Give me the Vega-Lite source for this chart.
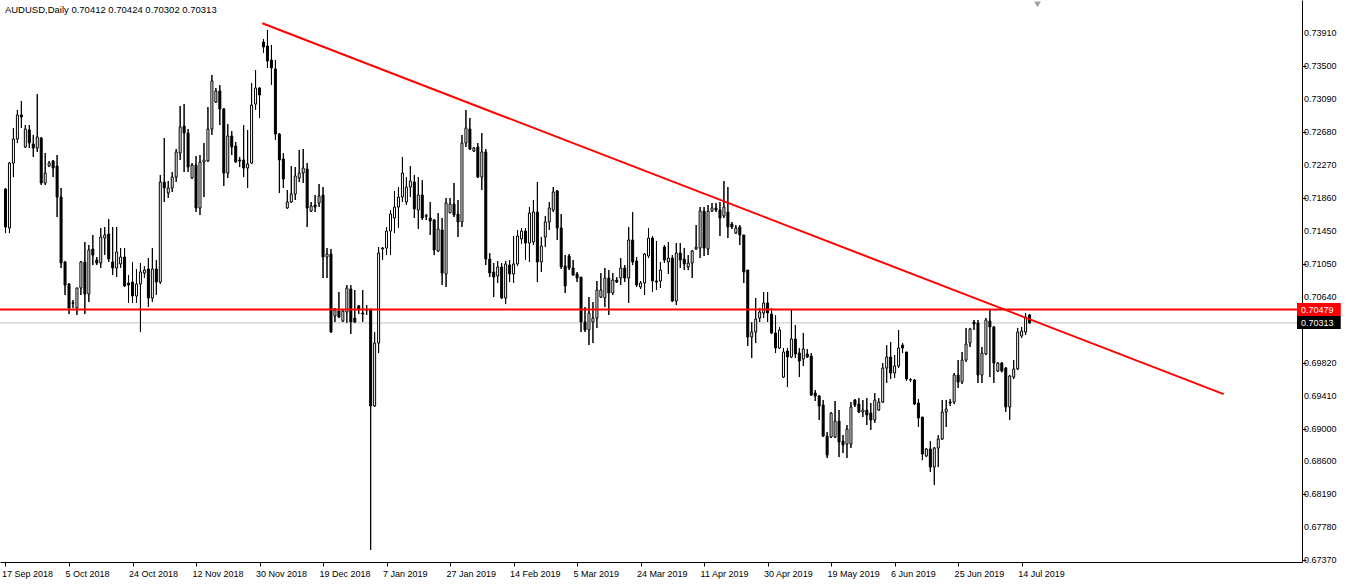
{
"$schema":"https://vega.github.io/schema/vega-lite/v6.json",
"width":1302,"height":562,
"autosize":{"type":"none"},
"padding":{"left":0,"top":0,"right":46,"bottom":24},
"background":"white",
"config":{"view":{"stroke":null},"font":"Liberation Sans"},
"datasets":{
"bars":[
{"i":0,"o":0.71975,"h":0.71987,"l":0.71428,"c":0.71503},
{"i":1,"o":0.71491,"h":0.72310,"l":0.71428,"c":0.72297},
{"i":2,"o":0.72297,"h":0.72732,"l":0.72123,"c":0.72595},
{"i":3,"o":0.72595,"h":0.72955,"l":0.72545,"c":0.72893},
{"i":4,"o":0.72893,"h":0.73067,"l":0.72732,"c":0.72868},
{"i":5,"o":0.72496,"h":0.72769,"l":0.72483,"c":0.72719},
{"i":6,"o":0.72707,"h":0.72769,"l":0.72483,"c":0.72545},
{"i":7,"o":0.72533,"h":0.72645,"l":0.72372,"c":0.72483},
{"i":8,"o":0.72483,"h":0.73153,"l":0.72434,"c":0.72620},
{"i":9,"o":0.72607,"h":0.72620,"l":0.72024,"c":0.72049},
{"i":10,"o":0.72049,"h":0.72421,"l":0.72024,"c":0.72173},
{"i":11,"o":0.72260,"h":0.72322,"l":0.72247,"c":0.72297},
{"i":12,"o":0.72322,"h":0.72334,"l":0.72123,"c":0.72235},
{"i":13,"o":0.72260,"h":0.72396,"l":0.71627,"c":0.71875},
{"i":14,"o":0.71875,"h":0.71987,"l":0.70994,"c":0.71056},
{"i":15,"o":0.71069,"h":0.71080,"l":0.70659,"c":0.70783},
{"i":16,"o":0.70796,"h":0.70805,"l":0.70423,"c":0.70498},
{"i":17,"o":0.70555,"h":0.70597,"l":0.70498,"c":0.70565},
{"i":18,"o":0.70498,"h":0.70750,"l":0.70411,"c":0.70746},
{"i":19,"o":0.70746,"h":0.71080,"l":0.70659,"c":0.71069},
{"i":20,"o":0.71069,"h":0.71317,"l":0.70423,"c":0.70671},
{"i":21,"o":0.70671,"h":0.71280,"l":0.70572,"c":0.71218},
{"i":22,"o":0.71230,"h":0.71404,"l":0.71031,"c":0.71155},
{"i":23,"o":0.71093,"h":0.71131,"l":0.71031,"c":0.71056},
{"i":24,"o":0.71056,"h":0.71491,"l":0.70994,"c":0.71379},
{"i":25,"o":0.71366,"h":0.71503,"l":0.71155,"c":0.71404},
{"i":26,"o":0.71416,"h":0.71602,"l":0.71069,"c":0.71106},
{"i":27,"o":0.71069,"h":0.71503,"l":0.70907,"c":0.70994},
{"i":28,"o":0.70994,"h":0.71503,"l":0.70882,"c":0.71193},
{"i":29,"o":0.71044,"h":0.71242,"l":0.70994,"c":0.71131},
{"i":30,"o":0.71131,"h":0.71242,"l":0.70758,"c":0.70771},
{"i":31,"o":0.70808,"h":0.70907,"l":0.70560,"c":0.70783},
{"i":32,"o":0.70820,"h":0.71069,"l":0.70560,"c":0.70647},
{"i":33,"o":0.70647,"h":0.70982,"l":0.70560,"c":0.70796},
{"i":34,"o":0.70796,"h":0.71056,"l":0.70200,"c":0.70945},
{"i":35,"o":0.70932,"h":0.71019,"l":0.70870,"c":0.70969},
{"i":36,"o":0.70982,"h":0.71118,"l":0.70510,"c":0.70622},
{"i":37,"o":0.70622,"h":0.71242,"l":0.70572,"c":0.70982},
{"i":38,"o":0.70982,"h":0.71093,"l":0.70659,"c":0.70820},
{"i":39,"o":0.70820,"h":0.72148,"l":0.70796,"c":0.72061},
{"i":40,"o":0.72061,"h":0.72607,"l":0.71813,"c":0.71987},
{"i":41,"o":0.71925,"h":0.72074,"l":0.71863,"c":0.71987},
{"i":42,"o":0.71987,"h":0.72185,"l":0.71937,"c":0.72123},
{"i":43,"o":0.72123,"h":0.72471,"l":0.72061,"c":0.72434},
{"i":44,"o":0.72421,"h":0.73005,"l":0.72334,"c":0.72744},
{"i":45,"o":0.72756,"h":0.73029,"l":0.72185,"c":0.72669},
{"i":46,"o":0.72669,"h":0.72719,"l":0.72185,"c":0.72247},
{"i":47,"o":0.72111,"h":0.72297,"l":0.72100,"c":0.72272},
{"i":48,"o":0.72272,"h":0.72384,"l":0.71689,"c":0.71739},
{"i":49,"o":0.71739,"h":0.72396,"l":0.71652,"c":0.72310},
{"i":50,"o":0.72310,"h":0.72545,"l":0.71875,"c":0.72334},
{"i":51,"o":0.72322,"h":0.72992,"l":0.72310,"c":0.72719},
{"i":52,"o":0.72719,"h":0.73389,"l":0.72645,"c":0.73315},
{"i":53,"o":0.73054,"h":0.73228,"l":0.73042,"c":0.73191},
{"i":54,"o":0.73191,"h":0.73265,"l":0.72769,"c":0.72967},
{"i":55,"o":0.72967,"h":0.72980,"l":0.72012,"c":0.72173},
{"i":56,"o":0.72173,"h":0.72781,"l":0.72111,"c":0.72632},
{"i":57,"o":0.72632,"h":0.72694,"l":0.72396,"c":0.72496},
{"i":58,"o":0.72508,"h":0.72558,"l":0.72300,"c":0.72310},
{"i":59,"o":0.72334,"h":0.72372,"l":0.72247,"c":0.72322},
{"i":60,"o":0.72334,"h":0.72769,"l":0.72123,"c":0.72235},
{"i":61,"o":0.72235,"h":0.72707,"l":0.71987,"c":0.72285},
{"i":62,"o":0.72297,"h":0.73290,"l":0.72285,"c":0.73017},
{"i":63,"o":0.73029,"h":0.73451,"l":0.72955,"c":0.73228},
{"i":64,"o":0.73228,"h":0.73240,"l":0.72856,"c":0.73141},
{"i":65,"o":0.73799,"h":0.73836,"l":0.73662,"c":0.73737},
{"i":66,"o":0.73749,"h":0.73948,"l":0.73476,"c":0.73563},
{"i":67,"o":0.73575,"h":0.73762,"l":0.73265,"c":0.73476},
{"i":68,"o":0.73464,"h":0.73575,"l":0.72583,"c":0.72657},
{"i":69,"o":0.72657,"h":0.72669,"l":0.71925,"c":0.72334},
{"i":70,"o":0.72347,"h":0.72421,"l":0.71987,"c":0.72099},
{"i":71,"o":0.71739,"h":0.71962,"l":0.71730,"c":0.71813},
{"i":72,"o":0.71813,"h":0.72260,"l":0.71801,"c":0.71912},
{"i":73,"o":0.71912,"h":0.72247,"l":0.71838,"c":0.72136},
{"i":74,"o":0.72111,"h":0.72458,"l":0.72061,"c":0.72173},
{"i":75,"o":0.72173,"h":0.72471,"l":0.72049,"c":0.72235},
{"i":76,"o":0.72223,"h":0.72297,"l":0.71503,"c":0.71739},
{"i":77,"o":0.71701,"h":0.71813,"l":0.71689,"c":0.71764},
{"i":78,"o":0.71776,"h":0.71900,"l":0.71689,"c":0.71751},
{"i":79,"o":0.71801,"h":0.72037,"l":0.71751,"c":0.71888},
{"i":80,"o":0.71900,"h":0.71999,"l":0.70870,"c":0.71131},
{"i":81,"o":0.71131,"h":0.71242,"l":0.70870,"c":0.71168},
{"i":82,"o":0.71168,"h":0.71230,"l":0.70190,"c":0.70200},
{"i":83,"o":0.70398,"h":0.70498,"l":0.70324,"c":0.70473},
{"i":84,"o":0.70460,"h":0.70696,"l":0.70373,"c":0.70386},
{"i":85,"o":0.70336,"h":0.70473,"l":0.70324,"c":0.70460},
{"i":86,"o":0.70448,"h":0.70783,"l":0.70312,"c":0.70746},
{"i":87,"o":0.70733,"h":0.70783,"l":0.70175,"c":0.70324},
{"i":88,"o":0.70373,"h":0.70721,"l":0.70312,"c":0.70324},
{"i":89,"o":0.70523,"h":0.70535,"l":0.70423,"c":0.70485},
{"i":90,"o":0.70436,"h":0.70721,"l":0.70324,"c":0.70423},
{"i":91,"o":0.70473,"h":0.70535,"l":0.70411,"c":0.70478},
{"i":92,"o":0.70485,"h":0.70485,"l":0.67495,"c":0.69282},
{"i":93,"o":0.69282,"h":0.70200,"l":0.69270,"c":0.70063},
{"i":94,"o":0.70063,"h":0.71254,"l":0.69939,"c":0.71180},
{"i":95,"o":0.71230,"h":0.71254,"l":0.71093,"c":0.71242},
{"i":96,"o":0.71242,"h":0.71503,"l":0.71155,"c":0.71453},
{"i":97,"o":0.71453,"h":0.71714,"l":0.71155,"c":0.71664},
{"i":98,"o":0.71615,"h":0.71950,"l":0.71428,"c":0.71751},
{"i":99,"o":0.71751,"h":0.71999,"l":0.71491,"c":0.71875},
{"i":100,"o":0.71875,"h":0.72372,"l":0.71813,"c":0.72173},
{"i":101,"o":0.71813,"h":0.72123,"l":0.71776,"c":0.71999},
{"i":102,"o":0.71999,"h":0.72260,"l":0.71875,"c":0.72074},
{"i":103,"o":0.72061,"h":0.72148,"l":0.71615,"c":0.71727},
{"i":104,"o":0.71714,"h":0.72123,"l":0.71478,"c":0.71900},
{"i":105,"o":0.71900,"h":0.72086,"l":0.71590,"c":0.71615},
{"i":106,"o":0.71636,"h":0.71664,"l":0.71590,"c":0.71645},
{"i":107,"o":0.71615,"h":0.71813,"l":0.71404,"c":0.71577},
{"i":108,"o":0.71590,"h":0.71602,"l":0.71155,"c":0.71218},
{"i":109,"o":0.71205,"h":0.71677,"l":0.71193,"c":0.71478},
{"i":110,"o":0.71466,"h":0.71615,"l":0.70783,"c":0.70932},
{"i":111,"o":0.70920,"h":0.71863,"l":0.70758,"c":0.71801},
{"i":112,"o":0.71677,"h":0.71863,"l":0.71677,"c":0.71788},
{"i":113,"o":0.71788,"h":0.72049,"l":0.71627,"c":0.71652},
{"i":114,"o":0.71664,"h":0.71838,"l":0.71379,"c":0.71565},
{"i":115,"o":0.71565,"h":0.72645,"l":0.71503,"c":0.72545},
{"i":116,"o":0.72545,"h":0.72955,"l":0.72496,"c":0.72732},
{"i":117,"o":0.72719,"h":0.72856,"l":0.72458,"c":0.72471},
{"i":118,"o":0.72446,"h":0.72496,"l":0.72434,"c":0.72483},
{"i":119,"o":0.72496,"h":0.72545,"l":0.72111,"c":0.72123},
{"i":120,"o":0.72123,"h":0.72669,"l":0.71962,"c":0.72434},
{"i":121,"o":0.72434,"h":0.72471,"l":0.71031,"c":0.71106},
{"i":122,"o":0.71106,"h":0.71180,"l":0.70882,"c":0.70932},
{"i":123,"o":0.70945,"h":0.71056,"l":0.70634,"c":0.70882},
{"i":124,"o":0.70895,"h":0.71081,"l":0.70808,"c":0.71007},
{"i":125,"o":0.71007,"h":0.71056,"l":0.70609,"c":0.70622},
{"i":126,"o":0.70622,"h":0.71081,"l":0.70547,"c":0.71044},
{"i":127,"o":0.71031,"h":0.71093,"l":0.70820,"c":0.70920},
{"i":128,"o":0.70920,"h":0.71391,"l":0.70808,"c":0.71044},
{"i":129,"o":0.71044,"h":0.71466,"l":0.71019,"c":0.71391},
{"i":130,"o":0.71354,"h":0.71491,"l":0.71292,"c":0.71453},
{"i":131,"o":0.71453,"h":0.71491,"l":0.71093,"c":0.71304},
{"i":132,"o":0.71304,"h":0.71751,"l":0.71069,"c":0.71677},
{"i":133,"o":0.71317,"h":0.71838,"l":0.71280,"c":0.71689},
{"i":134,"o":0.71689,"h":0.72061,"l":0.70820,"c":0.71069},
{"i":135,"o":0.71069,"h":0.71379,"l":0.70945,"c":0.71267},
{"i":136,"o":0.71379,"h":0.71640,"l":0.71254,"c":0.71565},
{"i":137,"o":0.71565,"h":0.71813,"l":0.71466,"c":0.71739},
{"i":138,"o":0.71714,"h":0.71999,"l":0.71689,"c":0.71937},
{"i":139,"o":0.71950,"h":0.71962,"l":0.71342,"c":0.71491},
{"i":140,"o":0.71491,"h":0.71664,"l":0.70982,"c":0.71007},
{"i":141,"o":0.71019,"h":0.71155,"l":0.70684,"c":0.70771},
{"i":142,"o":0.71143,"h":0.71168,"l":0.70969,"c":0.70994},
{"i":143,"o":0.70994,"h":0.71093,"l":0.70900,"c":0.70907},
{"i":144,"o":0.70920,"h":0.70945,"l":0.70820,"c":0.70870},
{"i":145,"o":0.70882,"h":0.70882,"l":0.70200,"c":0.70324},
{"i":146,"o":0.70324,"h":0.70510,"l":0.70200,"c":0.70225},
{"i":147,"o":0.70225,"h":0.70634,"l":0.70038,"c":0.70436},
{"i":148,"o":0.70324,"h":0.70572,"l":0.70063,"c":0.70373},
{"i":149,"o":0.70373,"h":0.70833,"l":0.70250,"c":0.70721},
{"i":150,"o":0.70634,"h":0.70932,"l":0.70622,"c":0.70721},
{"i":151,"o":0.70622,"h":0.70994,"l":0.70510,"c":0.70870},
{"i":152,"o":0.70870,"h":0.70969,"l":0.70411,"c":0.70684},
{"i":153,"o":0.70684,"h":0.70932,"l":0.70659,"c":0.70845},
{"i":154,"o":0.70845,"h":0.70882,"l":0.70810,"c":0.70820},
{"i":155,"o":0.70870,"h":0.71118,"l":0.70783,"c":0.70994},
{"i":156,"o":0.70994,"h":0.71031,"l":0.70820,"c":0.70870},
{"i":157,"o":0.70870,"h":0.71503,"l":0.70560,"c":0.71342},
{"i":158,"o":0.71342,"h":0.71689,"l":0.71031,"c":0.71069},
{"i":159,"o":0.71081,"h":0.71131,"l":0.70758,"c":0.70783},
{"i":160,"o":0.70758,"h":0.70833,"l":0.70733,"c":0.70808},
{"i":161,"o":0.70808,"h":0.71180,"l":0.70659,"c":0.71168},
{"i":162,"o":0.71143,"h":0.71491,"l":0.71118,"c":0.71366},
{"i":163,"o":0.71366,"h":0.71391,"l":0.70696,"c":0.70833},
{"i":164,"o":0.70833,"h":0.71329,"l":0.70721,"c":0.70820},
{"i":165,"o":0.70833,"h":0.71069,"l":0.70746,"c":0.70969},
{"i":166,"o":0.71254,"h":0.71280,"l":0.71056,"c":0.71093},
{"i":167,"o":0.71069,"h":0.71317,"l":0.70920,"c":0.71118},
{"i":168,"o":0.71118,"h":0.71155,"l":0.70572,"c":0.70585},
{"i":169,"o":0.70585,"h":0.71304,"l":0.70535,"c":0.71180},
{"i":170,"o":0.71180,"h":0.71304,"l":0.70994,"c":0.71093},
{"i":171,"o":0.71106,"h":0.71242,"l":0.70969,"c":0.71044},
{"i":172,"o":0.71007,"h":0.71155,"l":0.70969,"c":0.71056},
{"i":173,"o":0.71056,"h":0.71218,"l":0.70870,"c":0.71205},
{"i":174,"o":0.71230,"h":0.71528,"l":0.71218,"c":0.71254},
{"i":175,"o":0.71242,"h":0.71751,"l":0.71118,"c":0.71701},
{"i":176,"o":0.71701,"h":0.71751,"l":0.71143,"c":0.71242},
{"i":177,"o":0.71230,"h":0.71776,"l":0.71155,"c":0.71701},
{"i":178,"o":0.71701,"h":0.71801,"l":0.71689,"c":0.71739},
{"i":179,"o":0.71739,"h":0.71801,"l":0.71689,"c":0.71714},
{"i":180,"o":0.71714,"h":0.71813,"l":0.71391,"c":0.71615},
{"i":181,"o":0.71640,"h":0.72074,"l":0.71615,"c":0.71751},
{"i":182,"o":0.71689,"h":0.71999,"l":0.71366,"c":0.71503},
{"i":183,"o":0.71540,"h":0.71565,"l":0.71478,"c":0.71503},
{"i":184,"o":0.71428,"h":0.71528,"l":0.71416,"c":0.71491},
{"i":185,"o":0.71503,"h":0.71528,"l":0.71280,"c":0.71404},
{"i":186,"o":0.71404,"h":0.71404,"l":0.70808,"c":0.70945},
{"i":187,"o":0.70969,"h":0.70969,"l":0.70026,"c":0.70138},
{"i":188,"o":0.70138,"h":0.70324,"l":0.69877,"c":0.70200},
{"i":189,"o":0.70200,"h":0.70622,"l":0.70063,"c":0.70361},
{"i":190,"o":0.70373,"h":0.70498,"l":0.70324,"c":0.70448},
{"i":191,"o":0.70436,"h":0.70696,"l":0.70373,"c":0.70560},
{"i":192,"o":0.70560,"h":0.70696,"l":0.70324,"c":0.70436},
{"i":193,"o":0.70423,"h":0.70498,"l":0.70175,"c":0.70188},
{"i":194,"o":0.70188,"h":0.70411,"l":0.69939,"c":0.70001},
{"i":195,"o":0.70001,"h":0.70262,"l":0.69989,"c":0.70225},
{"i":196,"o":0.69641,"h":0.70001,"l":0.69629,"c":0.69952},
{"i":197,"o":0.69964,"h":0.70001,"l":0.69517,"c":0.69890},
{"i":198,"o":0.69890,"h":0.70473,"l":0.69877,"c":0.70113},
{"i":199,"o":0.70113,"h":0.70287,"l":0.69877,"c":0.69927},
{"i":200,"o":0.69939,"h":0.70001,"l":0.69641,"c":0.69840},
{"i":201,"o":0.69865,"h":0.70188,"l":0.69778,"c":0.69989},
{"i":202,"o":0.69927,"h":0.69989,"l":0.69877,"c":0.69890},
{"i":203,"o":0.69902,"h":0.69939,"l":0.69406,"c":0.69418},
{"i":204,"o":0.69443,"h":0.69480,"l":0.69344,"c":0.69406},
{"i":205,"o":0.69406,"h":0.69418,"l":0.69108,"c":0.69282},
{"i":206,"o":0.69294,"h":0.69356,"l":0.68897,"c":0.68909},
{"i":207,"o":0.68909,"h":0.68959,"l":0.68636,"c":0.68673},
{"i":208,"o":0.68897,"h":0.69207,"l":0.68884,"c":0.69194},
{"i":209,"o":0.68897,"h":0.69344,"l":0.68884,"c":0.69095},
{"i":210,"o":0.69095,"h":0.69232,"l":0.68648,"c":0.68835},
{"i":211,"o":0.68847,"h":0.68922,"l":0.68698,"c":0.68798},
{"i":212,"o":0.68810,"h":0.69046,"l":0.68636,"c":0.68996},
{"i":213,"o":0.68810,"h":0.69331,"l":0.68760,"c":0.69269},
{"i":214,"o":0.69356,"h":0.69368,"l":0.69269,"c":0.69294},
{"i":215,"o":0.69306,"h":0.69381,"l":0.69194,"c":0.69207},
{"i":216,"o":0.69207,"h":0.69356,"l":0.69145,"c":0.69232},
{"i":217,"o":0.69232,"h":0.69381,"l":0.69046,"c":0.69170},
{"i":218,"o":0.69194,"h":0.69319,"l":0.68984,"c":0.69108},
{"i":219,"o":0.69108,"h":0.69443,"l":0.69071,"c":0.69356},
{"i":220,"o":0.69232,"h":0.69381,"l":0.69220,"c":0.69331},
{"i":221,"o":0.69331,"h":0.69815,"l":0.69319,"c":0.69753},
{"i":222,"o":0.69753,"h":0.70038,"l":0.69567,"c":0.69890},
{"i":223,"o":0.69890,"h":0.70076,"l":0.69617,"c":0.69691},
{"i":224,"o":0.69691,"h":0.69914,"l":0.69629,"c":0.69778},
{"i":225,"o":0.69778,"h":0.70225,"l":0.69753,"c":0.70001},
{"i":226,"o":0.70038,"h":0.70063,"l":0.69939,"c":0.70001},
{"i":227,"o":0.69952,"h":0.69952,"l":0.69592,"c":0.69617},
{"i":228,"o":0.69604,"h":0.69629,"l":0.69579,"c":0.69610},
{"i":229,"o":0.69604,"h":0.69617,"l":0.69294,"c":0.69306},
{"i":230,"o":0.69319,"h":0.69368,"l":0.69021,"c":0.69133},
{"i":231,"o":0.69145,"h":0.69145,"l":0.68611,"c":0.68686},
{"i":232,"o":0.68661,"h":0.68760,"l":0.68648,"c":0.68748},
{"i":233,"o":0.68748,"h":0.68847,"l":0.68462,"c":0.68524},
{"i":234,"o":0.68524,"h":0.68773,"l":0.68301,"c":0.68760},
{"i":235,"o":0.68760,"h":0.68922,"l":0.68524,"c":0.68872},
{"i":236,"o":0.68872,"h":0.69356,"l":0.68860,"c":0.69207},
{"i":237,"o":0.69207,"h":0.69356,"l":0.69021,"c":0.69244},
{"i":238,"o":0.69331,"h":0.69368,"l":0.69282,"c":0.69319},
{"i":239,"o":0.69331,"h":0.69691,"l":0.69306,"c":0.69666},
{"i":240,"o":0.69666,"h":0.69852,"l":0.69505,"c":0.69579},
{"i":241,"o":0.69579,"h":0.69952,"l":0.69555,"c":0.69852},
{"i":242,"o":0.69852,"h":0.70250,"l":0.69828,"c":0.70051},
{"i":243,"o":0.70063,"h":0.70250,"l":0.70014,"c":0.70237},
{"i":244,"o":0.70324,"h":0.70349,"l":0.70225,"c":0.70299},
{"i":245,"o":0.70312,"h":0.70349,"l":0.69567,"c":0.69666},
{"i":246,"o":0.69666,"h":0.70014,"l":0.69567,"c":0.69939},
{"i":247,"o":0.69927,"h":0.70373,"l":0.69914,"c":0.70349},
{"i":248,"o":0.70336,"h":0.70485,"l":0.69641,"c":0.70262},
{"i":249,"o":0.70262,"h":0.70275,"l":0.69567,"c":0.69815},
{"i":250,"o":0.69716,"h":0.69828,"l":0.69704,"c":0.69815},
{"i":251,"o":0.69815,"h":0.69828,"l":0.69700,"c":0.69716},
{"i":252,"o":0.69753,"h":0.69766,"l":0.69207,"c":0.69269},
{"i":253,"o":0.69269,"h":0.69666,"l":0.69108,"c":0.69654},
{"i":254,"o":0.69641,"h":0.69852,"l":0.69617,"c":0.69741},
{"i":255,"o":0.69741,"h":0.70250,"l":0.69728,"c":0.70200},
{"i":256,"o":0.70150,"h":0.70262,"l":0.70125,"c":0.70212},
{"i":257,"o":0.70200,"h":0.70436,"l":0.70163,"c":0.70386},
{"i":258,"o":0.70412,"h":0.70424,"l":0.70302,"c":0.70313}
],
"trend":[{"i":64.7,"p":0.74031},{"i":306.9,"p":0.69430}],
"ticks":[{"v":0.6737},{"v":0.6778},{"v":0.6819},{"v":0.686},{"v":0.69},{"v":0.6941},{"v":0.6982},{"v":0.7064},{"v":0.7105},{"v":0.7145},{"v":0.7186},{"v":0.7227},{"v":0.7268},{"v":0.7309},{"v":0.735},{"v":0.7391}],
"one":[{}]
},
"layer":[
{"data":{"name":"bars"},
 "mark":{"type":"rule","color":"black","strokeWidth":1},
 "encoding":{
  "x":{"field":"i","type":"quantitative",
   "scale":{"domain":[-0.125,325.375],"nice":false,"zero":false},
   "axis":{"orient":"bottom","title":null,"grid":false,
    "values":[0,16,32,48,64,80,96,112,128,144,160,176,192,208,224,240,256],
    "labelExpr":"['17 Sep 2018','5 Oct 2018','24 Oct 2018','12 Nov 2018','30 Nov 2018','19 Dec 2018','7 Jan 2019','27 Jan 2019','14 Feb 2019','5 Mar 2019','24 Mar 2019','11 Apr 2019','30 Apr 2019','19 May 2019','6 Jun 2019','25 Jun 2019','14 Jul 2019'][round(datum.value/16)]",
    "labelAlign":"left","labelBaseline":"top","labelFontSize":9,"labelColor":"black","labelFont":"Liberation Sans",
    "labelOverlap":false,"labelFlush":false,"labelBound":false,"labelPadding":3,"labelOffset":-4,
    "tickColor":"black","tickSize":4,"domainColor":"black","domainWidth":1}},
  "y":{"field":"l","type":"quantitative",
   "scale":{"domain":[0.67346,0.7432],"nice":false,"zero":false},
   "axis":{"orient":"right","title":null,"grid":false,"labels":false,
    "values":[0.6737,0.6778,0.6819,0.686,0.69,0.6941,0.6982,0.7064,0.7105,0.7145,0.7186,0.7227,0.7268,0.7309,0.735,0.7391],
    "tickColor":"black","tickSize":4,"domainColor":"black","domainWidth":1}},
  "y2":{"field":"h"}}},
{"data":{"name":"ticks"},
 "mark":{"type":"text","color":"black","align":"left","baseline":"middle","dx":7,"fontSize":9,"font":"Liberation Sans"},
 "encoding":{"x":{"datum":325.375,"type":"quantitative"},"y":{"field":"v","type":"quantitative"},
  "text":{"field":"v","type":"quantitative","format":".5f"}}},
{"data":{"name":"one"},
 "mark":{"type":"rule","color":"#C0C0C0","strokeWidth":1},
 "encoding":{"y":{"datum":0.70313,"type":"quantitative"}}},
{"data":{"name":"bars"},
 "mark":{"type":"rule","color":"black","strokeWidth":1},
 "encoding":{
  "x":{"field":"i","type":"quantitative"},
  "y":{"field":"l","type":"quantitative"},
  "y2":{"field":"h"}}},
{"data":{"name":"bars"},
 "mark":{"type":"bar","width":2,"stroke":"black","strokeWidth":1},
 "encoding":{
  "x":{"field":"i","type":"quantitative"},
  "y":{"field":"o","type":"quantitative"},
  "y2":{"field":"c"},
  "fill":{"condition":{"test":"datum.c >= datum.o","value":"white"},"value":"black"}}},
{"data":{"name":"one"},
 "mark":{"type":"rule","color":"#FF0000","strokeWidth":2},
 "encoding":{"y":{"datum":0.70479,"type":"quantitative"}}},
{"data":{"name":"trend"},
 "mark":{"type":"line","color":"#FF0000","strokeWidth":2},
 "encoding":{"x":{"field":"i","type":"quantitative"},"y":{"field":"p","type":"quantitative"}}},
{"data":{"name":"one"},
 "mark":{"type":"rect","color":"#FF0000"},
 "encoding":{"x":{"datum":325.375,"type":"quantitative"},"x2":{"datum":336.4},
  "y":{"datum":0.70398,"type":"quantitative"},"y2":{"datum":0.70560}}},
{"data":{"name":"one"},
 "mark":{"type":"rect","color":"black"},
 "encoding":{"x":{"datum":325.375,"type":"quantitative"},"x2":{"datum":336.4},
  "y":{"datum":0.70237,"type":"quantitative"},"y2":{"datum":0.70398}}},
{"data":{"name":"one"},
 "mark":{"type":"text","text":"0.70479","color":"white","align":"left","baseline":"middle","dx":4,"fontSize":9,"font":"Liberation Sans"},
 "encoding":{"x":{"datum":325.375,"type":"quantitative"},"y":{"datum":0.70479,"type":"quantitative"}}},
{"data":{"name":"one"},
 "mark":{"type":"text","text":"0.70313","color":"white","align":"left","baseline":"middle","dx":4,"fontSize":9,"font":"Liberation Sans"},
 "encoding":{"x":{"datum":325.375,"type":"quantitative"},"y":{"datum":0.70317,"type":"quantitative"}}},
{"data":{"name":"one"},
 "mark":{"type":"text","text":"AUDUSD,Daily  0.70412 0.70424 0.70302 0.70313","color":"black","align":"left","baseline":"middle","dx":-3,"fontSize":9.5,"font":"Liberation Sans"},
 "encoding":{"x":{"datum":0.6,"type":"quantitative"},"y":{"datum":0.74196,"type":"quantitative"}}},
{"data":{"name":"one"},
 "mark":{"type":"point","shape":"triangle-down","filled":true,"color":"#A0A0A0","size":45,"opacity":1},
 "encoding":{"x":{"datum":260.0,"type":"quantitative"},"y":{"datum":0.74265,"type":"quantitative"}}}
]
}
